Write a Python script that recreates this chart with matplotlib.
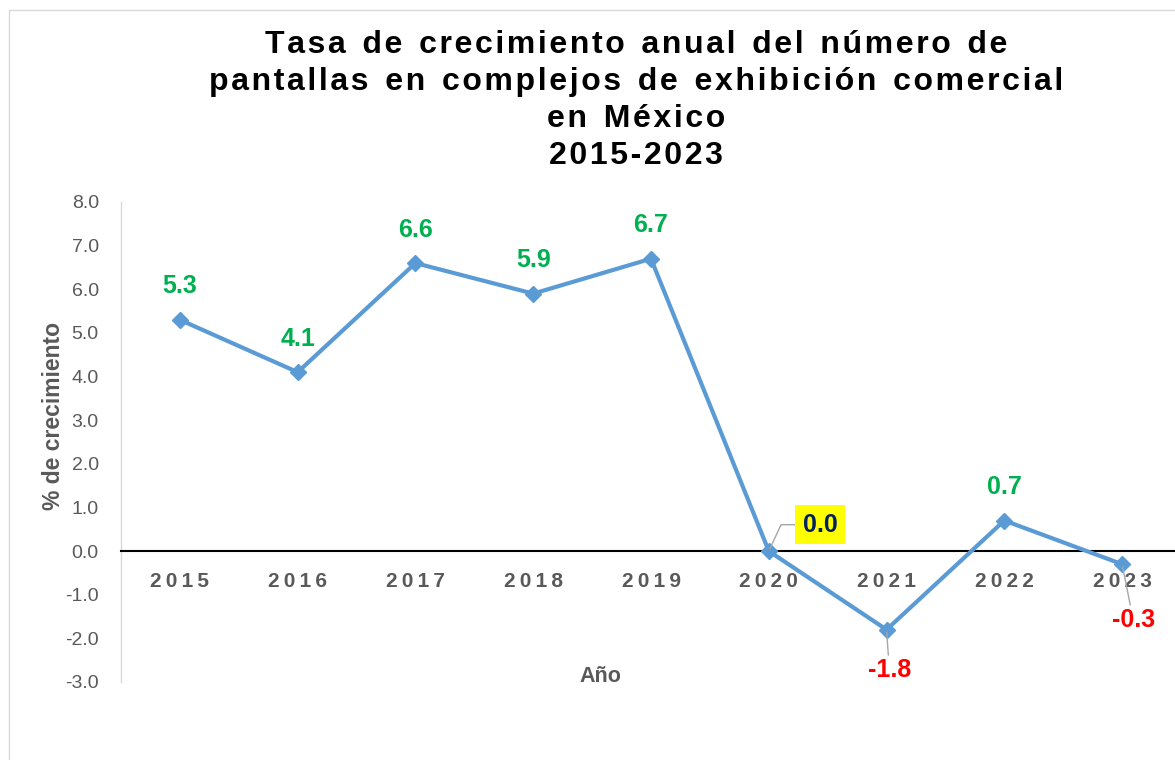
import matplotlib.pyplot as plt
from matplotlib.patches import Rectangle

years = ["2015", "2016", "2017", "2018", "2019", "2020", "2021", "2022", "2023"]
growth = [5.3, 4.1, 6.6, 5.9, 6.7, 0.0, -1.8, 0.7, -0.3]
yticks = [-3.0, -2.0, -1.0, 0.0, 1.0, 2.0, 3.0, 4.0, 5.0, 6.0, 7.0, 8.0]
title_lines = ["Tasa de crecimiento anual del número de",
               "pantallas en complejos de exhibición comercial",
               "en México",
               "2015-2023"]

plt.rcParams['font.family'] = ['Liberation Sans', 'DejaVu Sans']

def spaced(s, sep):
    # fake letter spacing like the Excel original
    return sep.join(s).replace(" ", sep + " ")

W, H = 1175, 760
fig = plt.figure(figsize=(W / 100, H / 100), dpi=100)
ax = fig.add_axes([121 / W, 78 / H, 1060 / W, 480 / H])

x = list(range(len(years)))
ax.plot(x, growth, color="#5B9BD5", lw=3, marker="D", ms=8.5, zorder=3, clip_on=False)

ax.spines["top"].set_visible(False)
ax.spines["right"].set_visible(False)
ax.spines["left"].set_color("#D9D9D9")
ax.spines["left"].set_linewidth(1)
ax.spines["bottom"].set_position(("data", 0))
ax.spines["bottom"].set_color("black")
ax.spines["bottom"].set_linewidth(1.5)

ax.set_xlim(-0.5, 8.5)
ax.set_ylim(-3, 8)
ax.set_yticks(yticks)
ax.set_yticklabels([f"{v:.1f}" for v in yticks])
ax.set_xticks(x)
ax.set_xticklabels([spaced(y, "\u2009") for y in years], fontweight="bold")
ax.tick_params(axis="x", length=0, pad=15, labelsize=15, labelcolor="#595959")
ax.tick_params(axis="y", length=0, pad=16, labelsize=14, labelcolor="#595959")

# data labels
lead = dict(arrowstyle="-", color="#A6A6A6", lw=1, shrinkA=0, shrinkB=2)
for i, v in enumerate(growth):
    lbl = f"{v:.1f}"
    if v > 0:
        ax.annotate(lbl, (i, v), xytext=(0, 24), textcoords="offset points",
                    ha="center", va="center", fontsize=18, fontweight="bold",
                    color="#00B050")
    elif v == 0:
        ax.annotate(lbl, (i, v), xytext=(37, 19), textcoords="offset points",
                    ha="center", va="center", fontsize=18, fontweight="bold",
                    color="#002060",
                    bbox=dict(boxstyle="square,pad=0.3", fc="#FFFF00", ec="none"),
                    arrowprops=dict(lead, connectionstyle="angle,angleA=0,angleB=65,rad=0"))
    elif i == 6:
        ax.annotate(lbl, (i, v), xytext=(2, -29), textcoords="offset points",
                    ha="center", va="center", fontsize=18, fontweight="bold",
                    color="#FF0000", arrowprops=lead)
    else:
        ax.annotate(lbl, (i, v), xytext=(8, -40), textcoords="offset points",
                    ha="center", va="center", fontsize=18, fontweight="bold",
                    color="#FF0000", arrowprops=lead)

fig.text(636 / W, 1 - 30 / H, "\n".join(spaced(l, "\u200a") for l in title_lines),
         ha="center", va="top", fontsize=23, fontweight="bold", linespacing=1.3)
fig.text(54 / W, 1 - 416 / H, "% de crecimiento", rotation=90, ha="center",
         va="center", fontsize=16.5, fontweight="bold", color="#595959")
fig.text(600 / W, 1 - 676 / H, "Año", ha="center", va="center",
         fontsize=15.5, fontweight="bold", color="#595959")

fig.add_artist(Rectangle((9 / W, -0.05), 1.0, 1 - 10 / H + 0.05,
                         transform=fig.transFigure, fill=False,
                         ec="#D9D9D9", lw=1))

fig.savefig("out.png", dpi=100)
